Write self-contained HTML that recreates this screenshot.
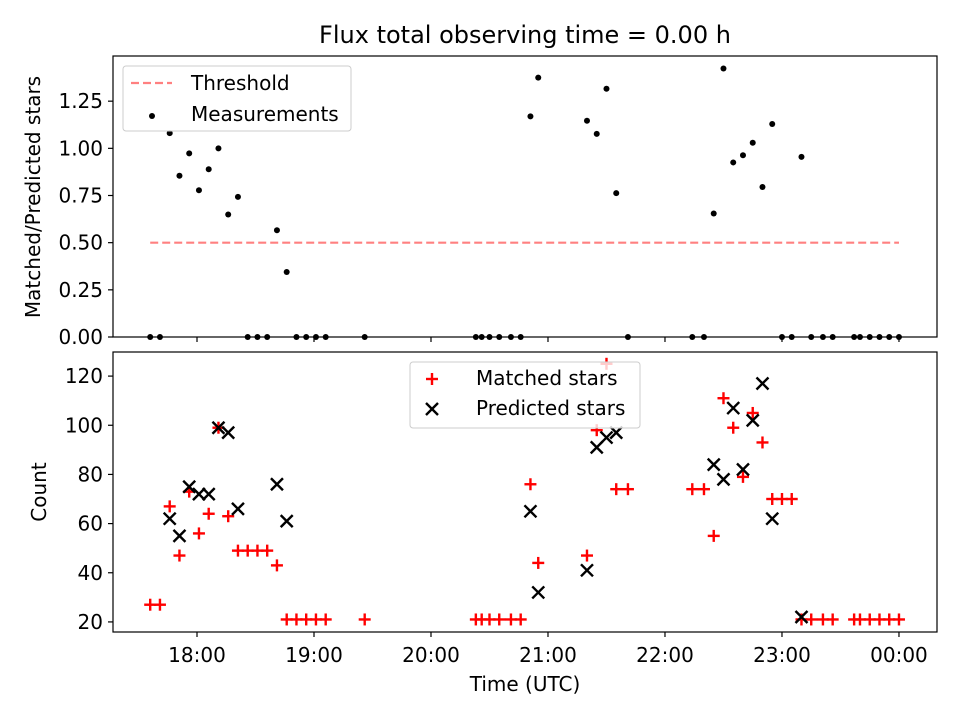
<!DOCTYPE html>
<html><head><meta charset="utf-8"><style>
body{margin:0;background:#fff;}
svg{display:block;font-family:"DejaVu Sans","Liberation Sans",sans-serif;}
</style></head><body>
<svg id="chart" width="960" height="720" viewBox="0 0 960 720"></svg>
<script>
const times = ["17:36","17:41","17:46","17:51","17:56","18:01","18:06","18:11","18:16","18:21","18:26","18:31","18:36","18:41","18:46","18:51","18:56","19:01","19:06","19:26","20:23","20:26","20:30","20:35","20:41","20:46","20:51","20:55","21:20","21:25","21:30","21:35","21:41","22:14","22:20","22:25","22:30","22:35","22:40","22:45","22:50","22:55","23:00","23:05","23:10","23:15","23:21","23:26","23:37","23:40","23:45","23:50","23:55","00:00"];
const matched = [27,27,67,47,73,56,64,99,63,49,49,49,49,43,21,21,21,21,21,21,21,21,21,21,21,21,76,44,47,98,125,74,74,74,74,55,111,99,79,105,93,70,70,70,21,21,21,21,21,21,21,21,21,21];
const predicted = [null,null,62,55,75,72,72,99,97,66,null,null,null,76,61,null,null,null,null,null,null,null,null,null,null,null,65,32,41,91,95,97,null,null,null,84,78,107,82,102,117,62,null,null,22,null,null,null,null,null,null,null,null,null];
const threshold = 0.5;
const xTickLabels = ["18:00","19:00","20:00","21:00","22:00","23:00","00:00"];
const ratioTicks = [0.00,0.25,0.50,0.75,1.00,1.25];
const countTicks = [20,40,60,80,100,120];

const NS="http://www.w3.org/2000/svg";
const svg=document.getElementById('chart');
function mk(tag,attrs,parent){const e=document.createElementNS(NS,tag);for(const k in attrs)e.setAttribute(k,attrs[k]);(parent||svg).appendChild(e);return e;}
function tToH(s){let [h,m]=s.split(':').map(Number);if(h<12)h+=24;return h+m/60;}
const L=113,R=937;
const xMin=17.282,xMax=24.325;
function X(h){return L+(h-xMin)/(xMax-xMin)*(R-L);}
const T1=56,B1=337; const r0=0,r1=1.4894;
function Y1(v){return B1-(v-r0)/(r1-r0)*(B1-T1);}
const T2=352,B2=632; const c0=15.9,c1=129.8;
function Y2(v){return B2-(v-c0)/(c1-c0)*(B2-T2);}
const FS='20';

let t=mk('text',{x:525,y:43,'text-anchor':'middle','font-size':'24'});t.textContent='Flux total observing time = 0.00 h';



// ---- top axes
const g1=mk('g',{});


let th=mk('line',{x1:X(tToH(times[0])),x2:X(tToH(times[times.length-1])),y1:Y1(threshold),y2:Y1(threshold),stroke:'#ff8080','stroke-width':2.2,'stroke-dasharray':'8,4'},g1);


times.forEach((s,i)=>{
  const p=predicted[i];const r=p?matched[i]/p:0;
  const c=mk('circle',{cx:X(tToH(s)),cy:Y1(r),r:3,fill:'#000'},g1);
  
  
});
let f1=mk('rect',{x:L,y:T1,width:R-L,height:B1-T1,fill:'none',stroke:'#000','stroke-width':1.2},g1);


ratioTicks.forEach(v=>{
  mk('line',{x1:L-5,x2:L,y1:Y1(v),y2:Y1(v),stroke:'#000','stroke-width':1.2},g1);
  const tx=mk('text',{x:L-10,y:Y1(v)+7,'text-anchor':'end','font-size':FS},g1);tx.textContent=v.toFixed(2);
  
  
});
xTickLabels.forEach(s=>{mk('line',{x1:X(tToH(s)),x2:X(tToH(s)),y1:B1,y2:B1+5,stroke:'#000','stroke-width':1.2},g1);});
let yl1=mk('text',{transform:'translate(40,197) rotate(-90)','text-anchor':'middle','font-size':FS},g1);yl1.textContent='Matched/Predicted stars';


const lg1=mk('g',{},g1);


mk('rect',{x:123,y:66,width:228,height:65,rx:3,fill:'#fff','fill-opacity':0.8,stroke:'#ccc'},lg1);
mk('line',{x1:131,x2:172,y1:83,y2:83,stroke:'#ff8080','stroke-width':2.2,'stroke-dasharray':'8,4'},lg1);
let lt=mk('text',{x:191,y:90,'font-size':FS},lg1);lt.textContent='Threshold';
mk('circle',{cx:152,cy:116,r:3,fill:'#000'},lg1);
lt=mk('text',{x:191,y:121,'font-size':FS},lg1);lt.textContent='Measurements';

// ---- bottom axes
const g2=mk('g',{});


function plus(cx,cy,p){const g=mk('g',{stroke:'#f00','stroke-width':2.4},p);mk('line',{x1:cx-6,x2:cx+6,y1:cy,y2:cy},g);mk('line',{x1:cx,x2:cx,y1:cy-6,y2:cy+6},g);return g;}
function cross(cx,cy,p){const g=mk('g',{stroke:'#000','stroke-width':2.4},p);mk('line',{x1:cx-6,x2:cx+6,y1:cy-6,y2:cy+6},g);mk('line',{x1:cx-6,x2:cx+6,y1:cy+6,y2:cy-6},g);return g;}
times.forEach((s,i)=>{
  const m=plus(X(tToH(s)),Y2(matched[i]),g2);
  
  
});
times.forEach((s,i)=>{
  if(predicted[i]==null)return;
  const c=cross(X(tToH(s)),Y2(predicted[i]),g2);
  
  
});
let f2=mk('rect',{x:L,y:T2,width:R-L,height:B2-T2,fill:'none',stroke:'#000','stroke-width':1.2},g2);


countTicks.forEach(v=>{
  mk('line',{x1:L-5,x2:L,y1:Y2(v),y2:Y2(v),stroke:'#000','stroke-width':1.2},g2);
  const tx=mk('text',{x:L-10,y:Y2(v)+7,'text-anchor':'end','font-size':FS},g2);tx.textContent=v;
  
  
});
xTickLabels.forEach(s=>{
  mk('line',{x1:X(tToH(s)),x2:X(tToH(s)),y1:B2,y2:B2+5,stroke:'#000','stroke-width':1.2},g2);
  const tx=mk('text',{x:X(tToH(s)),y:B2+30,'text-anchor':'middle','font-size':FS},g2);tx.textContent=s;
  
  
});
let yl2=mk('text',{transform:'translate(46,492) rotate(-90)','text-anchor':'middle','font-size':FS},g2);yl2.textContent='Count';


let xl=mk('text',{x:525,y:691,'text-anchor':'middle','font-size':FS},g2);xl.textContent='Time (UTC)';


const lg2=mk('g',{},g2);


mk('rect',{x:410,y:362,width:230,height:66,rx:3,fill:'#fff','fill-opacity':0.8,stroke:'#ccc'},lg2);
plus(432,379,lg2);
lt=mk('text',{x:476,y:385,'font-size':FS},lg2);lt.textContent='Matched stars';
cross(432,409,lg2);
lt=mk('text',{x:476,y:415,'font-size':FS},lg2);lt.textContent='Predicted stars';
</script>
</body></html>
